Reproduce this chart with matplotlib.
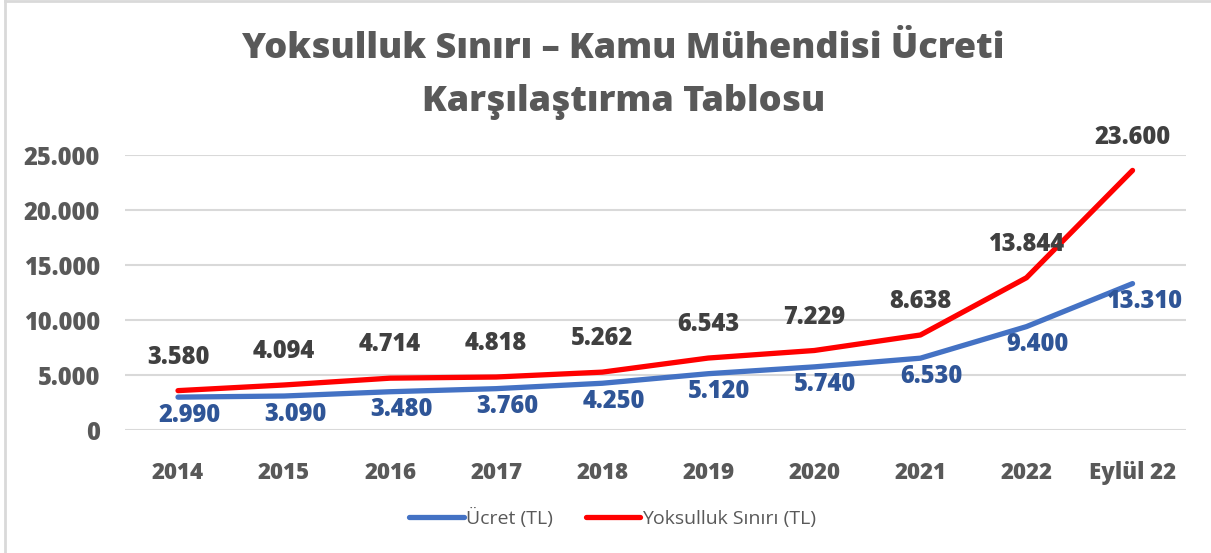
import matplotlib.pyplot as plt
from matplotlib.lines import Line2D

# chart data
years = ["2014", "2015", "2016", "2017", "2018", "2019", "2020", "2021", "2022", "Eylül 22"]
ucret = [2990, 3090, 3480, 3760, 4250, 5120, 5740, 6530, 9400, 13310]
yoksulluk = [3580, 4094, 4714, 4818, 5262, 6543, 7229, 8638, 13844, 23600]
yticks = [0, 5000, 10000, 15000, 20000, 25000]

plt.rcParams['font.family'] = ['Open Sans', 'DejaVu Sans']


def tr_fmt(v):
    # turkish thousands separator
    return f"{v:,.0f}".replace(",", ".")


fig = plt.figure(figsize=(12.11, 5.53), dpi=100)
ax = fig.add_axes([0.1032, 0.2224, 0.8758, 0.4973])

x = list(range(len(years)))
ax.plot(x, ucret, color="#4472C4", lw=3.8, solid_capstyle="round", label="Ücret (TL)")
ax.plot(x, yoksulluk, color="#FF0000", lw=3.8, solid_capstyle="round", label="Yoksulluk Sınırı (TL)")

# data labels
for i in x:
    ax.annotate(tr_fmt(yoksulluk[i]), (i, yoksulluk[i]), xytext=(0, 24), textcoords="offset points",
                ha="center", va="center", fontsize=17, fontweight="heavy", color="#404040")
    ax.annotate(tr_fmt(ucret[i]), (i, ucret[i]), xytext=(8, -13), textcoords="offset points",
                ha="center", va="center", fontsize=17, fontweight="heavy", color="#2F5597")

ax.set_xlim(-0.5, len(years) - 0.5)
ax.set_ylim(0, 25000)
ax.set_yticks(yticks)
ax.set_yticklabels([tr_fmt(v) for v in yticks], fontsize=17, fontweight="heavy", color="#595959")
ax.set_xticks(x)
ax.set_xticklabels(years, fontsize=16, fontweight="heavy", color="#595959")
ax.tick_params(length=0)
ax.tick_params(axis="x", pad=22)
ax.tick_params(axis="y", pad=18)
ax.grid(axis="y", color="#D9D9D9", lw=1.5)
ax.set_axisbelow(True)
for s in ax.spines.values():
    s.set_visible(False)

# title
fig.text(0.515, 0.912, "Yoksulluk Sınırı – Kamu Mühendisi Ücreti", ha="center", va="center",
         fontsize=26, fontweight="heavy", color="#595959")
fig.text(0.515, 0.815, "Karşılaştırma Tablosu", ha="center", va="center",
         fontsize=26, fontweight="heavy", color="#595959")

# legend
handles = [Line2D([], [], color="#4472C4", lw=3.8, solid_capstyle="round"),
           Line2D([], [], color="#FF0000", lw=3.8, solid_capstyle="round")]
fig.legend(handles, ["Ücret (TL)", "Yoksulluk Sınırı (TL)"], loc="center", bbox_to_anchor=(0.506, 0.063),
           ncol=2, frameon=False, fontsize=14, labelcolor="#595959", handlelength=2.8,
           handletextpad=0.1, columnspacing=1.7)

# thin frame on top and left
fig.add_artist(Line2D([0.004, 0.004], [0, 0.998], color="#D9D9D9", lw=2, transform=fig.transFigure))
fig.add_artist(Line2D([0.004, 1], [0.998, 0.998], color="#D9D9D9", lw=2, transform=fig.transFigure))

fig.savefig("out.png", dpi=100)
